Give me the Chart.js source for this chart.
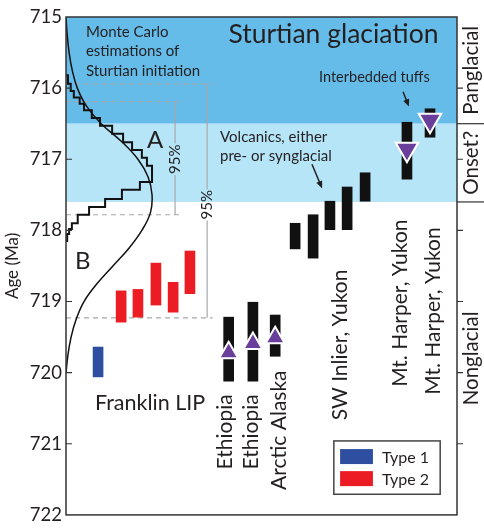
<!DOCTYPE html>
<html>
<head>
<meta charset="utf-8">
<script src="https://cdn.jsdelivr.net/npm/chart.js@4.4.0/dist/chart.umd.min.js"></script>
<style>
  html, body { margin: 0; background: #fff; }
  #wrap { width: 484px; height: 530px; }
</style>
</head>
<body>
<div id="wrap"><canvas id="grafico" width="484" height="530"></canvas></div>
<script>
const FONT = "Lato, 'Open Sans', sans-serif";
const INK = "#231f20";

// age axis (Ma)
const ageMin = 715, ageMax = 722;

// glacial phases, right hand column
const phaseLabels = ["Panglacial", "Onset?", "Nonglacial"];
const phaseEdges = [715, 716.5, 717.6, 722];
const phaseColors = ["#66bce9", "#b6e5f8", null];

// Monte Carlo curve (B)
const curveAge = [715.0, 715.25, 715.5, 715.75, 716.0, 716.25, 716.5, 716.75, 717.0, 717.25, 717.5,
                  717.75, 718.0, 718.25, 718.5, 718.75, 719.0, 719.25, 719.5, 719.75, 720.0];
const curveDens = [0.0, 0.3, 0.8, 1.6, 2.9, 5.2, 9.0, 14.2, 18.4, 21.0, 22.0,
                   21.6, 19.4, 16.1, 12.0, 7.9, 4.6, 2.6, 1.3, 0.5, 0.0];

// Monte Carlo histogram (A): bin edges and heights
const histEdges = [715.82, 715.94, 716.04, 716.13, 716.22, 716.31, 716.42, 716.53, 716.64, 716.76, 716.87,
                   716.98, 717.09, 717.20, 717.32, 717.43, 717.56, 717.67, 717.78, 717.90, 717.98, 718.05, 718.15];
const histCounts = [0.5, 1.2, 2.0, 3.5, 4.6, 6.6, 8.7, 11.8, 14.6, 16.9, 19.4,
                    20.7, 22.0, 22.0, 18.9, 14.3, 10.0, 5.9, 3.0, 1.5, 0.8, 0.3];

// 95% intervals: [A, B]
const ciTop = [716.19, 715.94];
const ciBot = [717.78, 719.23];
const ciMid = [717.0, 717.64];
const ciX = [27.9, 36.1];
const ciDashEnd = [29.7, 37.5];

// Franklin LIP ages
const typeLabels = ["Type 1", "Type 2"];
const typeColors = ["#2e4f9f", "#ec1c24"];
const type1X = [8.2];
const type1Top = [719.64];
const type1Bot = [720.06];
const type2X = [14.1, 18.4, 23.0, 27.4, 31.7];
const type2Top = [718.85, 718.83, 718.46, 718.73, 718.29];
const type2Bot = [719.29, 719.22, 719.05, 719.15, 718.89];

// other dated units (Ethiopia x2, Arctic Alaska, SW Inlier x5, Mt. Harper x2)
const otherX = [41.6, 47.8, 53.5, 58.6, 63.2, 67.5, 71.9, 76.5, 87.2, 93.1];
const otherTop = [719.22, 719.01, 719.19, 717.90, 717.78, 717.59, 717.39, 717.19, 716.48, 716.29];
const otherBot = [720.12, 720.12, 719.77, 718.26, 718.39, 717.99, 717.99, 717.59, 717.28, 716.69];

// constraints: up = maximum ages, down = interbedded tuffs
const upX = [41.6, 47.8, 53.5];
const upAge = [719.72, 719.59, 719.51];
const downX = [87.2, 93.1];
const downAge = [716.86, 716.45];

// site names (rotated), x and bottom age of the text
const siteNames = ["Ethiopia", "Ethiopia", "Arctic Alaska", "SW Inlier, Yukon", "Mt. Harper, Yukon", "Mt. Harper, Yukon"];
const siteX = [40.7, 47.3, 54.5, 70.1, 85.6, 93.8];
const siteBottom = [721.36, 721.36, 721.65, 720.67, 720.20, 720.31];

// horizontal notes: text, x, baseline age, size, align
const notes = [
  ["Monte Carlo", 5.1, 715.28, 15, "left"],
  ["estimations of", 5.1, 715.55, 15, "left"],
  ["Sturtian initiation", 5.1, 715.83, 15, "left"],
  ["Sturtian glaciation", 68.4, 715.36, 26.5, "center"],
  ["Interbedded tuffs", 64.7, 715.91, 14.5, "left"],
  ["Volcanics, either", 39.4, 716.76, 15, "left"],
  ["pre- or synglacial", 39.4, 717.02, 15, "left"],
  ["A", 22.8, 716.84, 24, "center"],
  ["B", 4.3, 718.54, 24, "center"],
  ["Franklin LIP", 21.5, 720.53, 21.5, "center"]
];

// arrows: [x0, age0, x1, age1]
const arrows = [
  [86.2, 716.05, 87.7, 716.26],
  [62.9, 717.07, 65.5, 717.41]
];

function barData(xs, tops, bots) {
  return xs.map((x, i) => ({ x: x, y: [tops[i], bots[i]] }));
}

function histPoints() {
  const pts = [{ x: 0, y: histEdges[0] }];
  histCounts.forEach((c, i) => {
    pts.push({ x: c, y: histEdges[i] });
    pts.push({ x: c, y: histEdges[i + 1] });
  });
  pts.push({ x: 0, y: histEdges[histEdges.length - 1] });
  return pts;
}

function segDataset(pts, extra) {
  return Object.assign({
    type: "line", data: pts, borderColor: "#a7a9ac", borderWidth: 1.2,
    pointRadius: 0, tension: 0, fill: false, order: 3
  }, extra || {});
}

const datasets = [
  {
    type: "scatter", data: upX.map((x, i) => ({ x: x, y: upAge[i] })),
    pointStyle: "triangle", pointRadius: 11, backgroundColor: "#6a3f9c",
    borderColor: "#fff", borderWidth: 2, order: 0
  },
  {
    type: "scatter", data: downX.map((x, i) => ({ x: x, y: downAge[i] })),
    pointStyle: "triangle", rotation: 180, pointRadius: 13, backgroundColor: "#6a3f9c",
    borderColor: "#fff", borderWidth: 2, order: 0
  },
  { type: "bar", data: barData(type1X, type1Top, type1Bot), backgroundColor: typeColors[0], barThickness: 10, grouped: false, order: 1 },
  { type: "bar", data: barData(type2X, type2Top, type2Bot), backgroundColor: typeColors[1], barThickness: 10, grouped: false, order: 1 },
  { type: "bar", data: barData(otherX, otherTop, otherBot), backgroundColor: "#111", barThickness: 10, grouped: false, order: 1 },
  {
    type: "line", data: histPoints(), borderColor: "#111", borderWidth: 2,
    pointRadius: 0, tension: 0, fill: false, order: 2
  },
  {
    type: "line", data: curveAge.map((a, i) => ({ x: curveDens[i], y: a })),
    borderColor: "#111", borderWidth: 1.5, pointRadius: 0, tension: 0.4, fill: false, order: 2
  }
];

// 95% dashed limits and vertical bars with a gap for the label
ciTop.forEach((t, i) => {
  const dash = { borderDash: [5, 4] };
  datasets.push(segDataset([{ x: 0, y: t }, { x: ciDashEnd[i], y: t }], dash));
  datasets.push(segDataset([{ x: 0, y: ciBot[i] }, { x: ciDashEnd[i], y: ciBot[i] }], dash));
  datasets.push(segDataset([{ x: ciX[i], y: t }, { x: ciX[i], y: ciMid[i] - 0.22 }]));
  datasets.push(segDataset([{ x: ciX[i], y: ciMid[i] + 0.22 }, { x: ciX[i], y: ciBot[i] }]));
});

function text(ctx, s, x, y, size, align, rot) {
  ctx.save();
  ctx.font = size + "px " + FONT;
  ctx.fillStyle = INK;
  ctx.translate(x, y);
  if (rot) ctx.rotate(rot);
  ctx.textAlign = align;
  ctx.textBaseline = rot ? "middle" : "alphabetic";
  ctx.fillText(s, 0, 0);
  ctx.restore();
}

const bandsPlugin = {
  id: "bands",
  beforeDatasetsDraw(chart) {
    const { ctx, chartArea, scales } = chart;
    phaseColors.forEach((col, i) => {
      if (!col) return;
      const y0 = scales.y.getPixelForValue(phaseEdges[i]);
      const y1 = scales.y.getPixelForValue(phaseEdges[i + 1]);
      ctx.fillStyle = col;
      ctx.fillRect(chartArea.left, y0, chartArea.right - chartArea.left, y1 - y0);
    });
  }
};

const decorPlugin = {
  id: "decor",
  afterDatasetsDraw(chart) {
    const { ctx, chartArea: a, scales } = chart;
    const X = v => scales.x.getPixelForValue(v);
    const Y = v => scales.y.getPixelForValue(v);

    // frame
    ctx.save();
    ctx.strokeStyle = "#333";
    ctx.lineWidth = 1.5;
    ctx.strokeRect(a.left, a.top, a.right - a.left, a.bottom - a.top);

    // ticks: inward on the left, outward on the right
    ctx.lineWidth = 1.2;
    scales.y.ticks.forEach(t => {
      if (t.value <= ageMin || t.value >= ageMax) return;
      const y = Y(t.value);
      ctx.beginPath();
      ctx.moveTo(a.left, y); ctx.lineTo(a.left + 6, y);
      ctx.moveTo(a.right, y); ctx.lineTo(a.right + 6, y);
      ctx.stroke();
    });

    // phase separators in the right column
    phaseEdges.slice(1, -1).forEach(e => {
      ctx.beginPath();
      ctx.moveTo(a.right, Y(e)); ctx.lineTo(chart.width, Y(e));
      ctx.stroke();
    });
    ctx.restore();

    phaseLabels.forEach((s, i) => {
      const yc = Y((phaseEdges[i] + phaseEdges[i + 1]) / 2);
      text(ctx, s, a.right + 14, yc, 20.5, "center", -Math.PI / 2);
    });

    // 95% labels
    ciX.forEach((x, i) => text(ctx, "95%", X(x), Y(ciMid[i]), 15, "center", -Math.PI / 2));

    notes.forEach(n => text(ctx, n[0], X(n[1]), Y(n[2]), n[3], n[4]));
    siteNames.forEach((s, i) => text(ctx, s, X(siteX[i]), Y(siteBottom[i]), 21, "left", -Math.PI / 2));

    // arrows
    ctx.save();
    ctx.strokeStyle = INK; ctx.fillStyle = INK; ctx.lineWidth = 1.5;
    arrows.forEach(r => {
      const x0 = X(r[0]), y0 = Y(r[1]), x1 = X(r[2]), y1 = Y(r[3]);
      const ang = Math.atan2(y1 - y0, x1 - x0);
      ctx.beginPath(); ctx.moveTo(x0, y0); ctx.lineTo(x1 - 5 * Math.cos(ang), y1 - 5 * Math.sin(ang)); ctx.stroke();
      ctx.beginPath();
      ctx.moveTo(x1, y1);
      ctx.lineTo(x1 - 8 * Math.cos(ang - 0.4), y1 - 8 * Math.sin(ang - 0.4));
      ctx.lineTo(x1 - 8 * Math.cos(ang + 0.4), y1 - 8 * Math.sin(ang + 0.4));
      ctx.closePath(); ctx.fill();
    });
    ctx.restore();

    // legend box
    const bx0 = X(68.5), bx1 = X(95.7), by0 = Y(720.96), by1 = Y(721.71);
    ctx.save();
    ctx.fillStyle = "#fff";
    ctx.fillRect(bx0, by0, bx1 - bx0, by1 - by0);
    ctx.strokeStyle = "#444"; ctx.lineWidth = 1.5;
    ctx.strokeRect(bx0, by0, bx1 - bx0, by1 - by0);
    typeLabels.forEach((s, i) => {
      const yc = Y(721.18 + i * 0.31);
      ctx.fillStyle = typeColors[i];
      ctx.fillRect(X(70.1), yc - 7.5, X(78.5) - X(70.1), 15);
      ctx.save();
      ctx.font = "16px " + FONT; ctx.fillStyle = INK;
      ctx.textBaseline = "middle"; ctx.textAlign = "left";
      ctx.fillText(s, X(80.8), yc + 1);
      ctx.restore();
    });
    ctx.restore();
  }
};

new Chart(document.getElementById("grafico"), {
  type: "scatter",
  data: { datasets: datasets },
  options: {
    responsive: false,
    animation: false,
    layout: { padding: { left: 0, right: 27, top: 17, bottom: 7 } },
    plugins: { legend: { display: false }, tooltip: { enabled: false } },
    scales: {
      x: { type: "linear", min: 0, max: 100, offset: false, display: false },
      y: {
        type: "linear", min: ageMin, max: ageMax, reverse: true,
        afterFit: s => { s.width = 66; },
        grid: { display: false, drawTicks: false },
        border: { display: false },
        ticks: { stepSize: 1, padding: 4, color: INK, font: { family: FONT, size: 18.5 } },
        title: { display: true, text: "Age (Ma)", color: INK, font: { family: FONT, size: 17 }, padding: { top: 2, bottom: 2 } }
      }
    }
  },
  plugins: [bandsPlugin, decorPlugin]
});
</script>
</body>
</html>
